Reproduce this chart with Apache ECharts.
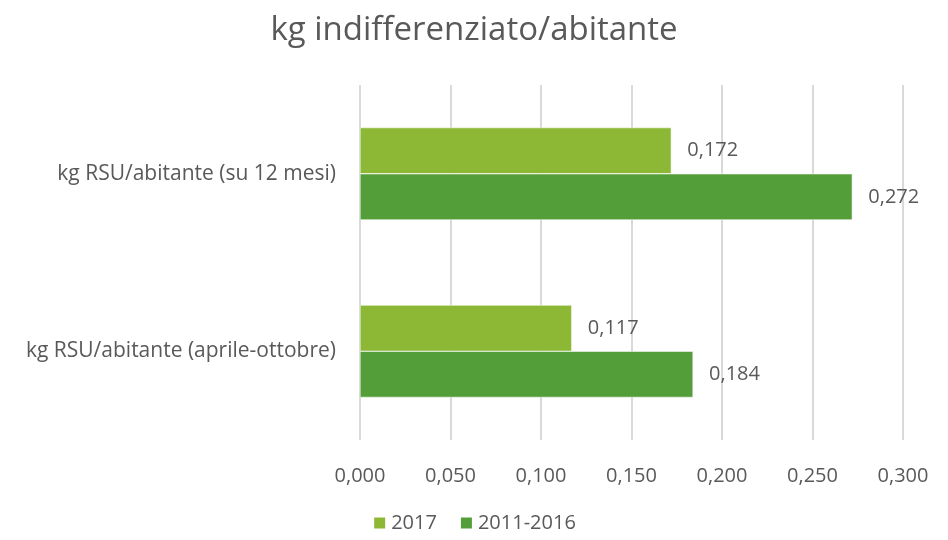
<!doctype html>
<html>
<head>
<meta charset="UTF-8">
<title>kg indifferenziato/abitante</title>
<script src="https://cdn.jsdelivr.net/npm/echarts@6/dist/echarts.min.js"></script>
</head>
<body style="margin:0;background:#fff">
<div id="chart" style="width:948px;height:540px;"></div>
<script>
var categories = ['kg RSU/abitante (aprile-ottobre)', 'kg RSU/abitante (su 12 mesi)'];
var seriesNames = ['2017', '2011-2016'];
var values2017 = [0.117, 0.172];
var values20112016 = [0.184, 0.272];
var xTicks = [0, 0.3, 0.05];

function fmt(v) {
    return v.toFixed(3).replace('.', ',');
}

var textColor = '#595959';
var font = '"Open Sans", Lato, sans-serif';

var myChart = echarts.init(document.getElementById('chart'));

var option = {
    animation: false,
    title: {
        text: 'kg indifferenziato/abitante',
        left: 'center',
        top: 9,
        textStyle: { color: textColor, fontSize: 33, fontWeight: 'normal', fontFamily: font }
    },
    legend: {
        bottom: 2,
        left: 'center',
        itemWidth: 13,
        itemHeight: 13,
        itemGap: 22,
        icon: 'rect',
        textStyle: { color: textColor, fontSize: 20, fontFamily: font },
        data: seriesNames
    },
    grid: { left: 360, right: 45, top: 85, bottom: 100 },
    xAxis: {
        type: 'value',
        min: xTicks[0],
        max: xTicks[1],
        interval: xTicks[2],
        axisLine: { show: false },
        axisTick: { show: false },
        splitLine: { lineStyle: { color: '#d9d9d9', width: 2 } },
        axisLabel: { color: textColor, fontSize: 20, fontFamily: font, margin: 26, formatter: fmt }
    },
    yAxis: {
        type: 'category',
        data: categories,
        axisLine: { show: false },
        axisTick: { show: false },
        axisLabel: { color: textColor, fontSize: 21, fontFamily: font, margin: 24 }
    },
    series: [
        {
            name: seriesNames[0],
            type: 'bar',
            data: values2017,
            barGap: '0%',
            barCategoryGap: '48%',
            itemStyle: { color: '#8cb836', borderColor: '#ffffff', borderWidth: 0.5 },
            label: { show: true, position: 'right', distance: 16, color: textColor, fontSize: 20, fontFamily: font, formatter: function (p) { return fmt(p.value); } }
        },
        {
            name: seriesNames[1],
            type: 'bar',
            data: values20112016,
            barGap: '0%',
            barCategoryGap: '48%',
            itemStyle: { color: '#549e3a', borderColor: '#ffffff', borderWidth: 0.5 },
            label: { show: true, position: 'right', distance: 16, color: textColor, fontSize: 20, fontFamily: font, formatter: function (p) { return fmt(p.value); } }
        }
    ]
};

myChart.setOption(option);
</script>
</body>
</html>
